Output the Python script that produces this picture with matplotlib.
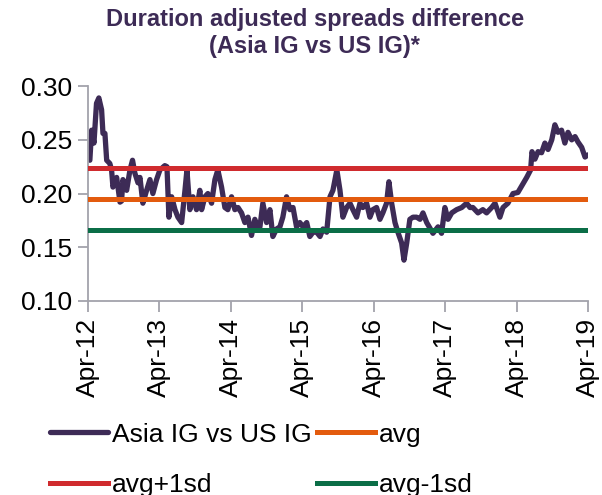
import pandas as pd
import matplotlib.pyplot as plt

plt.rcParams['font.family'] = ['Liberation Sans', 'DejaVu Sans']

# Asia IG vs US IG duration adjusted spread difference
dates = [
    '2012-04-11', '2012-04-20', '2012-05-02', '2012-05-15', '2012-05-27', '2012-06-10',
    '2012-06-17', '2012-06-27', '2012-07-06', '2012-07-22', '2012-07-31', '2012-08-07',
    '2012-08-26', '2012-09-12', '2012-09-20', '2012-09-27', '2012-10-16', '2012-11-02',
    '2012-11-15', '2012-11-27', '2012-12-13', '2012-12-23', '2013-01-07', '2013-01-26',
    '2013-02-12', '2013-02-27', '2013-03-18', '2013-04-04', '2013-04-29', '2013-05-10',
    '2013-05-20', '2013-06-03', '2013-06-20', '2013-07-05', '2013-07-24', '2013-08-10',
    '2013-08-20', '2013-09-04', '2013-09-20', '2013-10-08', '2013-10-25', '2013-11-03',
    '2013-11-20', '2013-12-05', '2013-12-24', '2014-01-10', '2014-01-25', '2014-02-13',
    '2014-03-02', '2014-03-17', '2014-04-05', '2014-04-22', '2014-05-08', '2014-05-26',
    '2014-06-12', '2014-06-28', '2014-07-16', '2014-08-02', '2014-08-18', '2014-08-28',
    '2014-09-12', '2014-10-01', '2014-10-18', '2014-11-02', '2014-11-21', '2014-12-08',
    '2014-12-23', '2015-01-11', '2015-01-28', '2015-02-13', '2015-03-03', '2015-03-20',
    '2015-04-05', '2015-04-24', '2015-05-10', '2015-05-26', '2015-06-14', '2015-07-01',
    '2015-07-16', '2015-08-04', '2015-08-21', '2015-09-05', '2015-09-25', '2015-10-11',
    '2015-10-26', '2015-11-14', '2015-12-01', '2015-12-16', '2016-01-04', '2016-01-21',
    '2016-02-05', '2016-02-24', '2016-03-12', '2016-03-27', '2016-04-15', '2016-05-02',
    '2016-05-17', '2016-06-05', '2016-06-17', '2016-07-01', '2016-07-18', '2016-08-02',
    '2016-08-21', '2016-09-02', '2016-09-16', '2016-10-02', '2016-10-18', '2016-11-06',
    '2016-11-23', '2016-12-08', '2016-12-27', '2017-01-28', '2017-02-23', '2017-03-13',
    '2017-03-30', '2017-04-15', '2017-05-04', '2017-05-29', '2017-06-24', '2017-07-19',
    '2017-08-05', '2017-08-20', '2017-09-15', '2017-10-10', '2017-10-29', '2017-11-24',
    '2017-12-11', '2018-01-05', '2018-01-21', '2018-02-15', '2018-03-13', '2018-04-07',
    '2018-05-03', '2018-05-22', '2018-06-11', '2018-06-18', '2018-07-03', '2018-07-19',
    '2018-08-06', '2018-08-23', '2018-09-08', '2018-09-27', '2018-10-13', '2018-10-29',
    '2018-11-16', '2018-12-03', '2018-12-19', '2019-01-07', '2019-01-24', '2019-02-08',
    '2019-02-27', '2019-03-16', '2019-03-31',
]
spread_diff = [
    0.231, 0.259, 0.247, 0.284, 0.289, 0.278,
    0.256, 0.256, 0.231, 0.228, 0.222, 0.206,
    0.215, 0.192, 0.193, 0.213, 0.203, 0.222,
    0.231, 0.219, 0.210, 0.215, 0.191, 0.203,
    0.213, 0.200, 0.213, 0.222, 0.226, 0.225,
    0.178, 0.197, 0.185, 0.178, 0.173, 0.203,
    0.222, 0.185, 0.197, 0.185, 0.203, 0.185,
    0.197, 0.200, 0.191, 0.213, 0.222, 0.206,
    0.187, 0.185, 0.197, 0.185, 0.187, 0.182,
    0.173, 0.178, 0.161, 0.176, 0.167, 0.169,
    0.191, 0.173, 0.185, 0.160, 0.167, 0.169,
    0.178, 0.197, 0.185, 0.187, 0.169, 0.173,
    0.169, 0.173, 0.160, 0.164, 0.164, 0.160,
    0.167, 0.164, 0.197, 0.203, 0.222, 0.203,
    0.178, 0.187, 0.191, 0.185, 0.178, 0.191,
    0.187, 0.191, 0.178, 0.185, 0.187, 0.176,
    0.182, 0.191, 0.211, 0.191, 0.173, 0.164,
    0.154, 0.138, 0.154, 0.176, 0.178, 0.178,
    0.176, 0.182, 0.173, 0.163, 0.169, 0.163,
    0.187, 0.176, 0.182, 0.185, 0.187, 0.191,
    0.187, 0.187, 0.182, 0.185, 0.182, 0.187,
    0.191, 0.178, 0.187, 0.191, 0.200, 0.201,
    0.209, 0.215, 0.222, 0.239, 0.232, 0.239,
    0.238, 0.247, 0.241, 0.250, 0.264, 0.257,
    0.259, 0.247, 0.257, 0.250, 0.253, 0.248,
    0.243, 0.234, 0.236,
]

avg = 0.195
avg_plus_1sd = 0.224
avg_minus_1sd = 0.166

tick_labels = ['Apr-12', 'Apr-13', 'Apr-14', 'Apr-15', 'Apr-16', 'Apr-17', 'Apr-18', 'Apr-19']

purple = '#3d2b56'
grey = '#a3a3ab'

x = pd.to_datetime(dates)
ticks = pd.to_datetime(['20' + t[-2:] + '-04-01' for t in tick_labels])

fig = plt.figure(figsize=(6.02, 4.95), dpi=100)
ax = fig.add_axes([0.146, 0.392, 0.831, 0.434])

l_series, = ax.plot(x, spread_diff, color=purple, lw=3.8, solid_joinstyle='round',
                    solid_capstyle='round', label='Asia IG vs US IG', zorder=2)
l_avg = ax.axhline(avg, color='#e35b0e', lw=3.6, label='avg', zorder=3)
l_up = ax.axhline(avg_plus_1sd, color='#d02b2e', lw=3.6, label='avg+1sd', zorder=3)
l_dn = ax.axhline(avg_minus_1sd, color='#0b6e47', lw=3.6, label='avg-1sd', zorder=3)

ax.set_xlim(ticks[0], ticks[-1])
ax.set_ylim(0.10, 0.30)
ax.set_yticks([0.10, 0.15, 0.20, 0.25, 0.30])
ax.yaxis.set_major_formatter(plt.FormatStrFormatter('%.2f'))
ax.set_xticks(ticks)
ax.set_xticklabels(tick_labels, rotation=90)

for side in ['top', 'right']:
    ax.spines[side].set_visible(False)
for side in ['left', 'bottom']:
    ax.spines[side].set_color(grey)
    ax.spines[side].set_linewidth(1.3)
ax.tick_params(axis='both', colors=grey, labelcolor='black', labelsize=19, width=1.3)
ax.tick_params(axis='y', length=7, pad=4)
ax.tick_params(axis='x', length=8, pad=4)

fig.text(0.523, 0.933, 'Duration adjusted spreads difference\n(Asia IG vs US IG)*',
         ha='center', va='center', fontsize=17, fontweight='bold', color=purple,
         linespacing=1.2)

# legend sits low, second row runs off the bottom edge as in the original
fig.legend(handles=[l_series, l_up, l_avg, l_dn], loc='upper left',
           bbox_to_anchor=(0.083, 0.146), ncol=2, frameon=False, fontsize=19,
           handlelength=2.2, handletextpad=0.15, columnspacing=0.2, labelspacing=1.0,
           borderaxespad=0, borderpad=0)

plt.savefig('out.png', dpi=100)
